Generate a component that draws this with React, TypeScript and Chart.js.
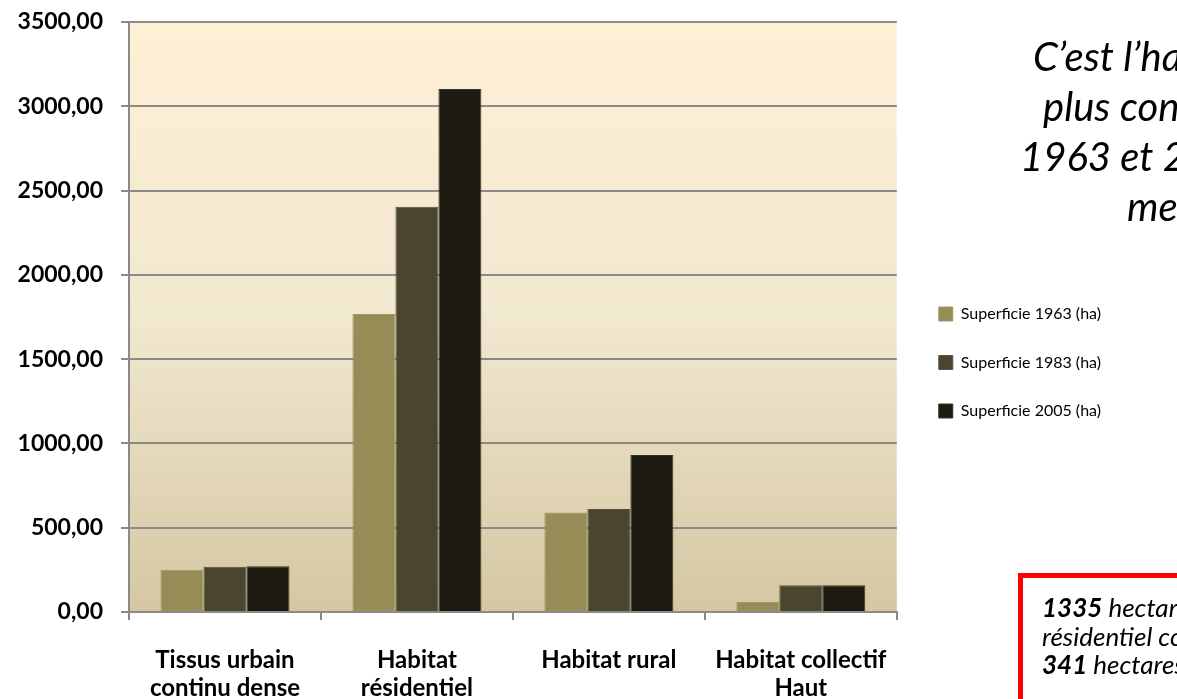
import React, { useEffect, useRef } from "react";
import { Chart, registerables } from "chart.js";

Chart.register(...registerables);

const categories: string[][] = [
  ["Tissus urbain", "continu dense"],
  ["Habitat", "résidentiel"],
  ["Habitat rural"],
  ["Habitat collectif", "Haut"],
];
const seriesLabels = ["Superficie 1963 (ha)", "Superficie 1983 (ha)", "Superficie 2005 (ha)"];
const values1963 = [250, 1768, 590, 60];
const values1983 = [268, 2404, 611, 158];
const values2005 = [272, 3103, 931, 158];
const yTicks = [0, 500, 1000, 1500, 2000, 2500, 3000, 3500];

const colors = ["#968c55", "#4a452e", "#1e1c12"];
const borders = ["#a0976a", "#58523c", "#34322a"];

const titleLines = [
  { text: "C’est l’habitat résidentiel qui s’est le", left: 1033 },
  { text: "plus consommé d’espace entre", left: 1043 },
  { text: "1963 et 2005 avec une augmentation", left: 1020 },
  { text: "mesurée", left: 1127 },
];

const bgPlugin = {
  id: "plotBg",
  beforeDraw(chart: any) {
    const { ctx, chartArea } = chart;
    if (!chartArea) return;
    const g = ctx.createLinearGradient(0, chartArea.top, 0, chartArea.bottom);
    g.addColorStop(0, "#fef0d5");
    g.addColorStop(0.5, "#f1e8d0");
    g.addColorStop(1, "#d5c7a2");
    ctx.save();
    ctx.fillStyle = g;
    ctx.fillRect(chartArea.left, chartArea.top, chartArea.right - chartArea.left, chartArea.bottom - chartArea.top);
    ctx.restore();
  },
};

const noVPad = (s: any) => {
  s.paddingTop = 0;
  s.paddingBottom = 0;
};

export default function App() {
  const ref = useRef<HTMLCanvasElement | null>(null);

  useEffect(() => {
    let chart: Chart | null = null;
    let cancelled = false;
    const fontsToLoad = ["16px Lato", "bold 23px Lato", "bold 24px Lato"];
    Promise.all(fontsToLoad.map((f) => document.fonts.load(f).catch(() => null))).then(() => {
      if (cancelled || !ref.current) return;
      chart = new Chart(ref.current, {
        type: "bar",
        data: {
          labels: categories,
          datasets: [values1963, values1983, values2005].map((d, i) => ({
            label: seriesLabels[i],
            data: d,
            backgroundColor: colors[i],
            borderColor: borders[i],
            borderWidth: 1,
            categoryPercentage: 0.672,
            barPercentage: 1,
            yAxisID: "y",
          })),
        },
        options: {
          responsive: false,
          animation: false,
          layout: { padding: { top: 22, left: 0, right: 66, bottom: 0 } },
          plugins: {
            tooltip: { enabled: false },
            legend: {
              position: "right",
              align: "center",
              fullSize: false,
              maxWidth: 400,
              title: { display: true, text: " ", font: { size: 10 }, padding: { top: 79, bottom: 0 } },
              labels: {
                boxWidth: 14,
                boxHeight: 14,
                padding: 32.5,
                color: "#000",
                font: { family: "Lato", size: 16 },
              },
            },
          },
          scales: {
            x: {
              afterFit: (s: any) => {
                s.height = 87;
                s.paddingLeft = 0;
                s.paddingRight = 0;
              },
              grid: { display: true, drawOnChartArea: false, drawTicks: true, tickLength: 8, color: "#8a8a8a", lineWidth: 2 },
              border: { display: true, color: "#8a8a8a", width: 2 },
              ticks: {
                color: "#000",
                padding: 26,
                maxRotation: 0,
                autoSkip: false,
                font: { family: "Lato", size: 24, weight: "bold", lineHeight: "28px" },
              },
            },
            y: {
              min: 0,
              max: 3500,
              afterFit: (s: any) => {
                s.width = 129;
                noVPad(s);
              },
              afterBuildTicks: (s: any) => { s.ticks = yTicks.map((v) => ({ value: v })); },
              grid: { color: "#8a8a8a", lineWidth: 2, tickLength: 8 },
              border: { display: true, color: "#8a8a8a", width: 2 },
              ticks: {
                color: "#000",
                padding: 18,
                font: { family: "Lato", size: 23, weight: "bold" },
                callback: (v: any) => Number(v).toFixed(2).replace(".", ","),
              },
            },
            spacer: {
              type: "linear",
              position: "right",
              display: true,
              afterFit: (s: any) => {
                s.width = 9.5;
                noVPad(s);
              },
              grid: { display: false },
              border: { display: false },
              ticks: { display: false },
            },
          },
        } as any,
        plugins: [bgPlugin],
      });
    });
    return () => {
      cancelled = true;
      if (chart) chart.destroy();
    };
  }, []);

  return (
    <div style={{ position: "fixed", left: 0, top: 0, width: 1177, height: 699, overflow: "hidden", background: "#fff" }}>
      <canvas ref={ref} width={1177} height={699} style={{ position: "absolute", left: 0, top: 0 }} />
      {titleLines.map((l, i) => (
        <div
          key={i}
          style={{
            position: "absolute",
            left: l.left,
            top: 31 + i * 50,
            whiteSpace: "nowrap",
            fontFamily: "Lato",
            fontStyle: "italic",
            fontSize: 40,
            lineHeight: "50px",
            color: "#000",
          }}
        >
          {l.text}
        </div>
      ))}
      <div
        style={{
          position: "absolute",
          left: 1018,
          top: 573,
          width: 400,
          height: 300,
          border: "5px solid #ff0000",
          boxSizing: "border-box",
        }}
      />
      <div
        style={{
          position: "absolute",
          left: 1042,
          top: 593,
          whiteSpace: "nowrap",
          fontFamily: "Lato",
          fontStyle: "italic",
          fontSize: 26,
          lineHeight: "28.5px",
          color: "#000",
        }}
      >
        <div><b>1335</b> hectares pour l’habitat</div>
        <div>résidentiel contre</div>
        <div><b>341</b> hectares pour l’habitat rural</div>
      </div>
    </div>
  );
}
